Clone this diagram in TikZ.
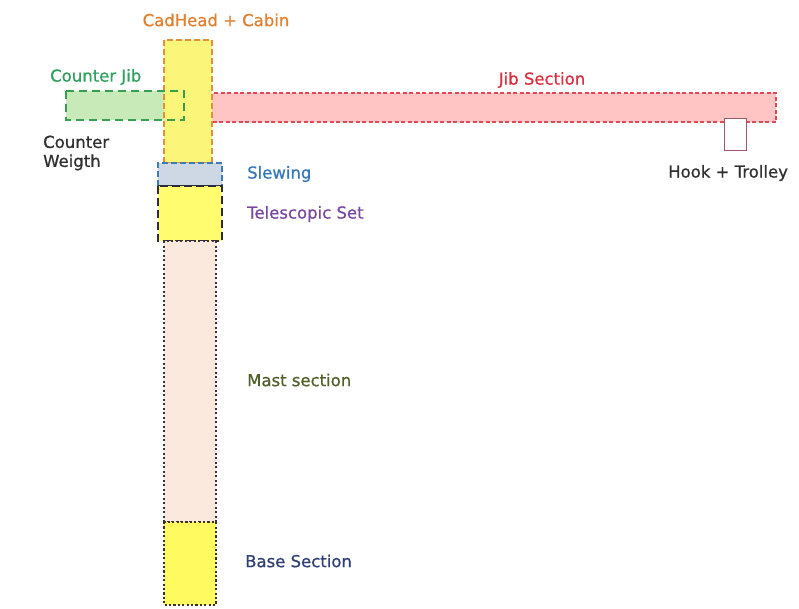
\documentclass[tikz,border=0pt]{standalone}
\usepackage{fontspec}
\setmainfont{DejaVu Sans}
\newfontfamily\semibold{DejaVu Sans}[FakeBold=0.7]
\begin{document}
\begin{tikzpicture}[x=1pt,y=-1pt,
  lbl/.style={anchor=west,inner sep=0pt,font=\semibold\fontsize{16.5}{19}\selectfont},
  cabinC/.style={fill=cabfill,draw=cabline,line width=1.6pt,dash pattern=on 6pt off 3pt},
]
\definecolor{cabfill}{HTML}{FBF67A}
\definecolor{cabline}{HTML}{E0913A}
\definecolor{cjfill}{HTML}{C8EAB8}
\definecolor{cjline}{HTML}{36A050}
\definecolor{jibfill}{HTML}{FFC4C4}
\definecolor{jibline}{HTML}{E04858}
\definecolor{hookline}{HTML}{A05868}
\definecolor{slewfill}{HTML}{CDD8E4}
\definecolor{slewline}{HTML}{3C7AB8}
\definecolor{telfill}{HTML}{FFFC70}
\definecolor{darkline}{HTML}{2C2C3C}
\definecolor{mastfill}{HTML}{FBE9DE}
\definecolor{mastline}{HTML}{3C3038}
\definecolor{basefill}{HTML}{FFFA60}
\definecolor{baseline}{HTML}{3C3020}
\definecolor{tcab}{HTML}{E08030}
\definecolor{tcj}{HTML}{30A060}
\definecolor{tjib}{HTML}{D83040}
\definecolor{tcw}{HTML}{303030}
\definecolor{tslew}{HTML}{3478B8}
\definecolor{ttel}{HTML}{7848A0}
\definecolor{tmast}{HTML}{50602A}
\definecolor{tbase}{HTML}{2E4074}
\useasboundingbox[fill=white] (0,0) rectangle (799,608);
% jib section
\draw[fill=jibfill,draw=jibline,line width=1.3pt,dash pattern=on 4pt off 2.5pt] (209,93) rectangle (776,122);
% hook + trolley
\draw[fill=white,draw=hookline,line width=1pt] (724,118) rectangle (746,150);
% counter jib fill
\fill[cjfill] (66,91) rectangle (184,120);
% cabin
\draw[cabinC] (164,40) rectangle (212,163);
% counter jib border
\draw[draw=cjline,line width=2.4pt,dash pattern=on 8pt off 5pt] (66,91) rectangle (184,120);
% slewing
\fill[slewfill] (158,163) rectangle (222,186);
\draw[slewline,line width=1.4pt,dash pattern=on 6pt off 3pt] (158,186) -- (158,163) -- (222,163) -- (222,186);
\draw[darkline,line width=2pt] (158,186) -- (222,186);
% telescopic
\draw[fill=telfill,draw=darkline,line width=2pt,dash pattern=on 8pt off 4pt] (158,186) rectangle (222,241);
% mast
\draw[fill=mastfill,draw=mastline,line width=2pt,dash pattern=on 2pt off 2.5pt] (164,241) rectangle (216,522);
% base
\draw[fill=basefill,draw=baseline,line width=2.2pt,dash pattern=on 2.2pt off 2.2pt] (164,522) rectangle (216,605);
% labels
\node[lbl,anchor=center,text=tcab] (cab) at (216,20) {CadHead + Cabin};
\node[lbl,text=tcj] (cj) at (50,77) {Counter Jib};
\node[lbl,anchor=center,text=tjib] (jib) at (542,80) {Jib Section};
\node[lbl,text=tcw,align=left] (cw) at (43,153) {Counter\\[0pt]Weigth};
\node[lbl,text=tslew] (slew) at (247,174) {Slewing};
\node[lbl,text=ttel] (tel) at (247,214) {Telescopic Set};
\node[lbl,text=tcw] (hook) at (668,173) {Hook + Trolley};
\node[lbl,text=tmast] (mast) at (247,380) {Mast section};
\node[lbl,text=tbase] (base) at (245,561) {Base Section};
\end{tikzpicture}
\end{document}
